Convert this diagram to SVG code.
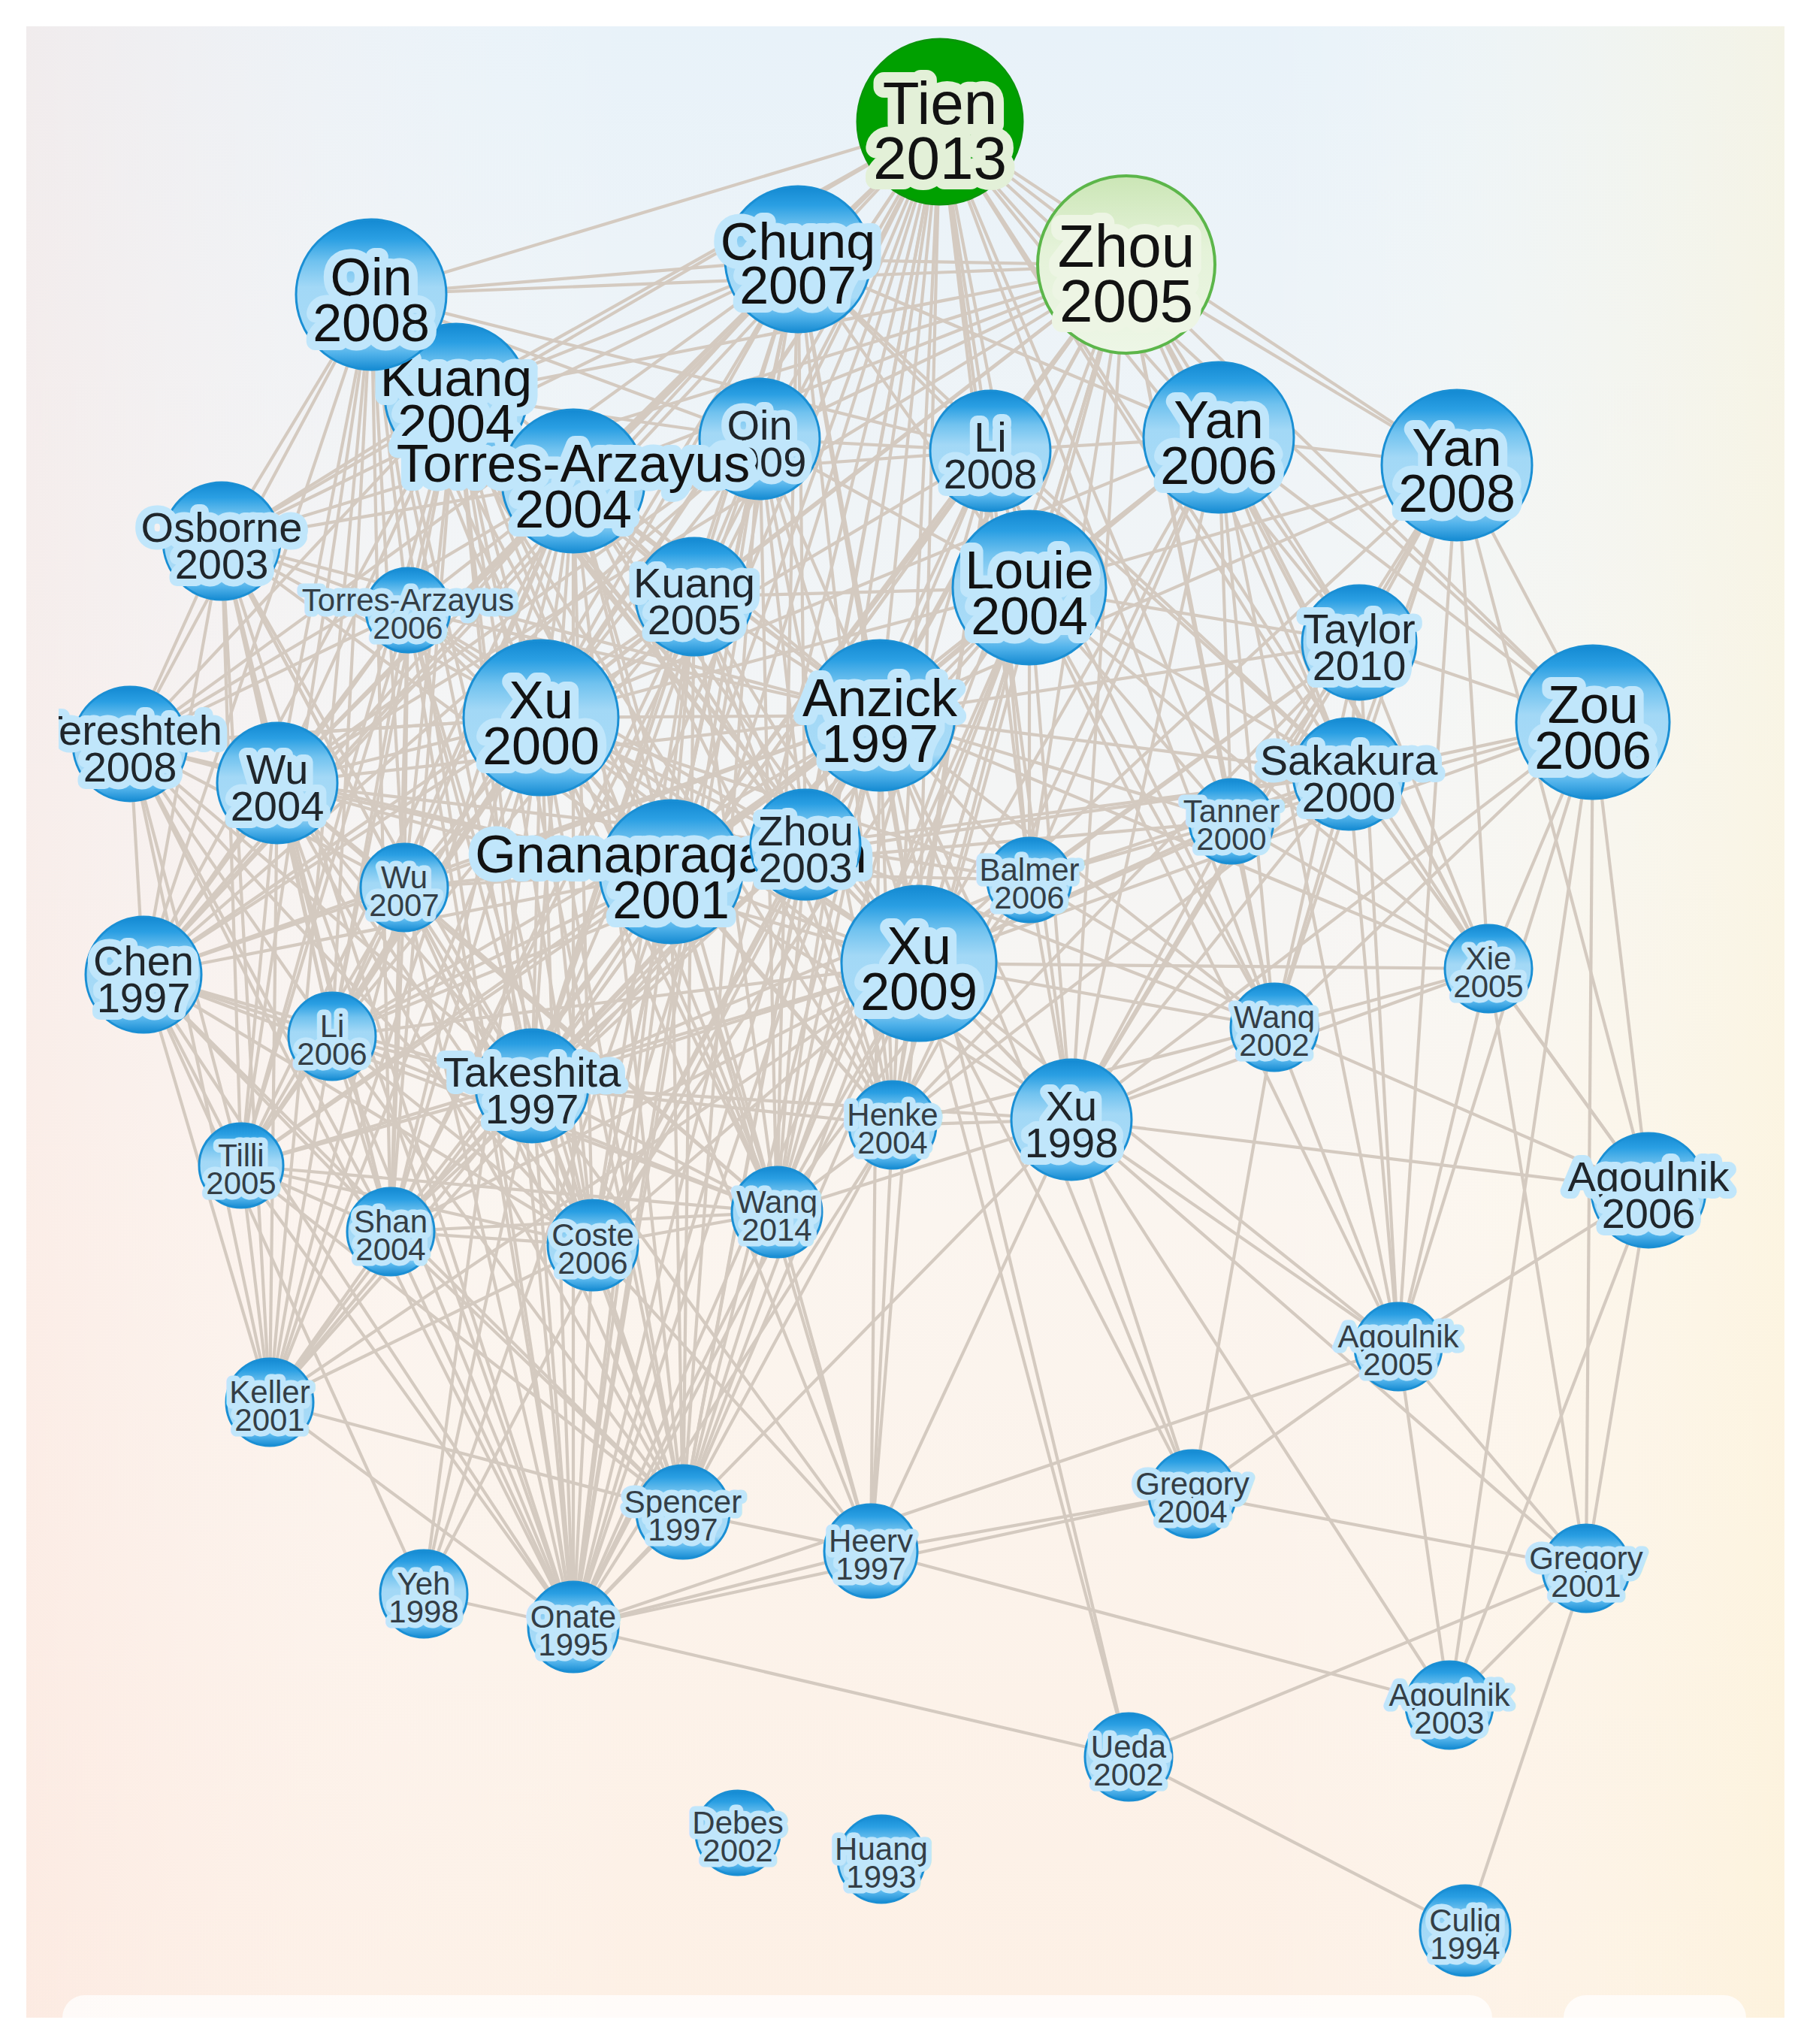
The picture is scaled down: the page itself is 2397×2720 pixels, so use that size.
<svg xmlns="http://www.w3.org/2000/svg" width="2397" height="2720" viewBox="0 0 2397 2720">
<defs>
<linearGradient id="bgV" x1="0" y1="0" x2="0" y2="1">
<stop offset="0" stop-color="#e8f2f9"/>
<stop offset="0.35" stop-color="#f3f5f6"/>
<stop offset="0.6" stop-color="#fbf5ef"/>
<stop offset="1" stop-color="#fdf0e5"/>
</linearGradient>
<linearGradient id="bgH" x1="0" y1="0" x2="1" y2="0">
<stop offset="0" stop-color="#fbe4de" stop-opacity="0.45"/>
<stop offset="0.35" stop-color="#ffffff" stop-opacity="0"/>
<stop offset="0.7" stop-color="#ffffff" stop-opacity="0"/>
<stop offset="1" stop-color="#fdf4d6" stop-opacity="0.55"/>
</linearGradient>
<linearGradient id="gBlue" x1="0" y1="0" x2="0" y2="1">
<stop offset="0" stop-color="#1389d2"/>
<stop offset="0.13" stop-color="#2a9fe3"/>
<stop offset="0.28" stop-color="#70c2ef"/>
<stop offset="0.45" stop-color="#a2d8f6"/>
<stop offset="0.76" stop-color="#a8dbf7"/>
<stop offset="0.89" stop-color="#52b3eb"/>
<stop offset="1" stop-color="#168bd2"/>
</linearGradient>
<linearGradient id="gLight" x1="0" y1="0" x2="0" y2="1">
<stop offset="0" stop-color="#cbe6b6"/>
<stop offset="0.4" stop-color="#e4f2d8"/>
<stop offset="1" stop-color="#edf6e6"/>
</linearGradient>
<clipPath id="clipTe"><rect x="78" y="900" width="400" height="200"/></clipPath>
<style>
.e line{stroke:#d4cac0;stroke-width:4.2}
.nc{fill:url(#gBlue);stroke:#1a8fd4;stroke-width:3}
text{font-family:"Liberation Sans",Arial,Helvetica,sans-serif;text-anchor:middle;paint-order:stroke;stroke:#c0e6fb;stroke-linejoin:round}
.tX{font-size:80px;stroke-width:28px;fill:#121212}
.tL{font-size:70px;stroke-width:24px;fill:#121212}
.tM{font-size:56px;stroke-width:20px;fill:#20262b}
.tS{font-size:42px;stroke-width:15px;fill:#343e46}
.tg{stroke:#e3f0d8}
.tz{stroke:#edf5e4}
</style>
</defs>
<rect x="0" y="0" width="2397" height="2720" fill="#ffffff"/>
<rect x="35" y="35" width="2340" height="2650" fill="url(#bgV)"/>
<rect x="35" y="35" width="2340" height="2650" fill="url(#bgH)"/>
<rect x="83" y="2655" width="1903" height="60" rx="30" fill="#ffffff" opacity="0.75"/>
<rect x="2081" y="2655" width="243" height="60" rx="30" fill="#ffffff" opacity="0.75"/>
<rect x="0" y="2685" width="2397" height="35" fill="#ffffff"/>

<g id="connectors" class="e">
<line x1="1251" y1="164" x2="1497" y2="353"/><line x1="1251" y1="164" x2="1062" y2="345"/><line x1="1251" y1="164" x2="494" y2="392"/><line x1="1251" y1="164" x2="607" y2="526"/><line x1="1251" y1="164" x2="763" y2="640"/><line x1="1251" y1="164" x2="1011" y2="584"/><line x1="1251" y1="164" x2="1318" y2="600"/><line x1="1251" y1="164" x2="1622" y2="582"/><line x1="1251" y1="164" x2="1939" y2="619"/><line x1="1251" y1="164" x2="295" y2="720"/><line x1="1251" y1="164" x2="924" y2="794"/><line x1="1251" y1="164" x2="1370" y2="782"/><line x1="1251" y1="164" x2="1809" y2="855"/><line x1="1251" y1="164" x2="720" y2="955"/><line x1="1251" y1="164" x2="1171" y2="952"/><line x1="1251" y1="164" x2="2120" y2="961"/><line x1="1251" y1="164" x2="369" y2="1042"/><line x1="1251" y1="164" x2="1795" y2="1030"/><line x1="1251" y1="164" x2="893" y2="1160"/><line x1="1251" y1="164" x2="1072" y2="1124"/><line x1="1251" y1="164" x2="1223" y2="1282"/><line x1="1251" y1="164" x2="1981" y2="1289"/><line x1="1251" y1="164" x2="1696" y2="1367"/><line x1="1251" y1="164" x2="708" y2="1445"/><line x1="1251" y1="164" x2="1426" y2="1490"/><line x1="1251" y1="164" x2="789" y2="1657"/><line x1="1251" y1="164" x2="1188" y2="1497"/><line x1="1251" y1="164" x2="1639" y2="1093"/><line x1="1251" y1="164" x2="1370" y2="1171"/><line x1="1251" y1="164" x2="191" y2="1297"/>
<line x1="1497" y1="353" x2="1062" y2="345"/><line x1="1497" y1="353" x2="494" y2="392"/><line x1="1497" y1="353" x2="607" y2="526"/><line x1="1497" y1="353" x2="763" y2="640"/><line x1="1497" y1="353" x2="1011" y2="584"/><line x1="1497" y1="353" x2="1318" y2="600"/><line x1="1497" y1="353" x2="1622" y2="582"/><line x1="1497" y1="353" x2="1939" y2="619"/><line x1="1497" y1="353" x2="1370" y2="782"/><line x1="1497" y1="353" x2="1809" y2="855"/><line x1="1497" y1="353" x2="720" y2="955"/><line x1="1497" y1="353" x2="1171" y2="952"/><line x1="1497" y1="353" x2="2120" y2="961"/><line x1="1497" y1="353" x2="1795" y2="1030"/><line x1="1497" y1="353" x2="1639" y2="1093"/><line x1="1497" y1="353" x2="893" y2="1160"/><line x1="1497" y1="353" x2="1072" y2="1124"/><line x1="1497" y1="353" x2="1223" y2="1282"/><line x1="1497" y1="353" x2="1696" y2="1367"/><line x1="1497" y1="353" x2="1981" y2="1289"/><line x1="1497" y1="353" x2="295" y2="720"/><line x1="1497" y1="353" x2="369" y2="1042"/><line x1="1497" y1="353" x2="708" y2="1445"/><line x1="1497" y1="353" x2="1426" y2="1490"/><line x1="1497" y1="353" x2="1370" y2="1171"/><line x1="1497" y1="353" x2="924" y2="794"/>
<line x1="1062" y1="345" x2="494" y2="392"/><line x1="1062" y1="345" x2="607" y2="526"/><line x1="1062" y1="345" x2="763" y2="640"/><line x1="1062" y1="345" x2="1011" y2="584"/><line x1="1062" y1="345" x2="1318" y2="600"/><line x1="1062" y1="345" x2="1622" y2="582"/><line x1="1062" y1="345" x2="1370" y2="782"/><line x1="1062" y1="345" x2="720" y2="955"/><line x1="1062" y1="345" x2="1171" y2="952"/><line x1="1062" y1="345" x2="893" y2="1160"/><line x1="1062" y1="345" x2="1072" y2="1124"/><line x1="1062" y1="345" x2="1223" y2="1282"/><line x1="1062" y1="345" x2="295" y2="720"/><line x1="1062" y1="345" x2="369" y2="1042"/><line x1="1062" y1="345" x2="173" y2="990"/><line x1="1062" y1="345" x2="924" y2="794"/><line x1="1062" y1="345" x2="708" y2="1445"/><line x1="1062" y1="345" x2="191" y2="1297"/><line x1="1062" y1="345" x2="442" y2="1379"/><line x1="1062" y1="345" x2="1795" y2="1030"/>
<line x1="494" y1="392" x2="607" y2="526"/><line x1="494" y1="392" x2="763" y2="640"/><line x1="494" y1="392" x2="1011" y2="584"/><line x1="494" y1="392" x2="1318" y2="600"/><line x1="494" y1="392" x2="295" y2="720"/><line x1="494" y1="392" x2="543" y2="812"/><line x1="494" y1="392" x2="924" y2="794"/><line x1="494" y1="392" x2="720" y2="955"/><line x1="494" y1="392" x2="1171" y2="952"/><line x1="494" y1="392" x2="173" y2="990"/><line x1="494" y1="392" x2="369" y2="1042"/><line x1="494" y1="392" x2="893" y2="1160"/><line x1="494" y1="392" x2="1072" y2="1124"/><line x1="494" y1="392" x2="538" y2="1181"/><line x1="494" y1="392" x2="191" y2="1297"/><line x1="494" y1="392" x2="442" y2="1379"/><line x1="494" y1="392" x2="708" y2="1445"/><line x1="494" y1="392" x2="321" y2="1551"/><line x1="494" y1="392" x2="520" y2="1639"/><line x1="494" y1="392" x2="1223" y2="1282"/><line x1="494" y1="392" x2="789" y2="1657"/><line x1="494" y1="392" x2="359" y2="1866"/>
<line x1="607" y1="526" x2="763" y2="640"/><line x1="607" y1="526" x2="1011" y2="584"/><line x1="607" y1="526" x2="295" y2="720"/><line x1="607" y1="526" x2="543" y2="812"/><line x1="607" y1="526" x2="924" y2="794"/><line x1="607" y1="526" x2="720" y2="955"/><line x1="607" y1="526" x2="1171" y2="952"/><line x1="607" y1="526" x2="173" y2="990"/><line x1="607" y1="526" x2="369" y2="1042"/><line x1="607" y1="526" x2="893" y2="1160"/><line x1="607" y1="526" x2="191" y2="1297"/><line x1="607" y1="526" x2="538" y2="1181"/><line x1="607" y1="526" x2="442" y2="1379"/><line x1="607" y1="526" x2="708" y2="1445"/><line x1="607" y1="526" x2="321" y2="1551"/><line x1="607" y1="526" x2="520" y2="1639"/><line x1="607" y1="526" x2="763" y2="2165"/><line x1="607" y1="526" x2="789" y2="1657"/>
<line x1="763" y1="640" x2="1011" y2="584"/><line x1="763" y1="640" x2="1318" y2="600"/><line x1="763" y1="640" x2="295" y2="720"/><line x1="763" y1="640" x2="543" y2="812"/><line x1="763" y1="640" x2="924" y2="794"/><line x1="763" y1="640" x2="720" y2="955"/><line x1="763" y1="640" x2="1171" y2="952"/><line x1="763" y1="640" x2="893" y2="1160"/><line x1="763" y1="640" x2="1072" y2="1124"/><line x1="763" y1="640" x2="369" y2="1042"/><line x1="763" y1="640" x2="173" y2="990"/><line x1="763" y1="640" x2="538" y2="1181"/><line x1="763" y1="640" x2="191" y2="1297"/><line x1="763" y1="640" x2="442" y2="1379"/><line x1="763" y1="640" x2="708" y2="1445"/><line x1="763" y1="640" x2="1223" y2="1282"/><line x1="763" y1="640" x2="763" y2="2165"/><line x1="763" y1="640" x2="520" y2="1639"/><line x1="763" y1="640" x2="789" y2="1657"/><line x1="763" y1="640" x2="1034" y2="1613"/>
<line x1="1011" y1="584" x2="1318" y2="600"/><line x1="1011" y1="584" x2="924" y2="794"/><line x1="1011" y1="584" x2="720" y2="955"/><line x1="1011" y1="584" x2="1171" y2="952"/><line x1="1011" y1="584" x2="1370" y2="782"/><line x1="1011" y1="584" x2="893" y2="1160"/><line x1="1011" y1="584" x2="1072" y2="1124"/><line x1="1011" y1="584" x2="1223" y2="1282"/><line x1="1011" y1="584" x2="708" y2="1445"/><line x1="1011" y1="584" x2="369" y2="1042"/><line x1="1011" y1="584" x2="191" y2="1297"/><line x1="1011" y1="584" x2="1188" y2="1497"/>
<line x1="1318" y1="600" x2="1622" y2="582"/><line x1="1318" y1="600" x2="1370" y2="782"/><line x1="1318" y1="600" x2="1171" y2="952"/><line x1="1318" y1="600" x2="1223" y2="1282"/><line x1="1318" y1="600" x2="893" y2="1160"/><line x1="1318" y1="600" x2="1072" y2="1124"/><line x1="1318" y1="600" x2="720" y2="955"/><line x1="1318" y1="600" x2="1795" y2="1030"/><line x1="1318" y1="600" x2="1370" y2="1171"/><line x1="1318" y1="600" x2="708" y2="1445"/><line x1="1318" y1="600" x2="1696" y2="1367"/>
<line x1="1622" y1="582" x2="1939" y2="619"/><line x1="1622" y1="582" x2="1370" y2="782"/><line x1="1622" y1="582" x2="1809" y2="855"/><line x1="1622" y1="582" x2="2120" y2="961"/><line x1="1622" y1="582" x2="1795" y2="1030"/><line x1="1622" y1="582" x2="1639" y2="1093"/><line x1="1622" y1="582" x2="1171" y2="952"/><line x1="1622" y1="582" x2="1223" y2="1282"/><line x1="1622" y1="582" x2="1696" y2="1367"/><line x1="1622" y1="582" x2="1981" y2="1289"/><line x1="1622" y1="582" x2="1426" y2="1490"/><line x1="1622" y1="582" x2="893" y2="1160"/><line x1="1622" y1="582" x2="720" y2="955"/><line x1="1622" y1="582" x2="1861" y2="1792"/>
<line x1="1939" y1="619" x2="1809" y2="855"/><line x1="1939" y1="619" x2="2120" y2="961"/><line x1="1939" y1="619" x2="1795" y2="1030"/><line x1="1939" y1="619" x2="1370" y2="782"/><line x1="1939" y1="619" x2="1171" y2="952"/><line x1="1939" y1="619" x2="1981" y2="1289"/><line x1="1939" y1="619" x2="1696" y2="1367"/><line x1="1939" y1="619" x2="1223" y2="1282"/><line x1="1939" y1="619" x2="2194" y2="1584"/><line x1="1939" y1="619" x2="1639" y2="1093"/><line x1="1939" y1="619" x2="1861" y2="1792"/><line x1="1939" y1="619" x2="1426" y2="1490"/>
<line x1="295" y1="720" x2="543" y2="812"/><line x1="295" y1="720" x2="720" y2="955"/><line x1="295" y1="720" x2="173" y2="990"/><line x1="295" y1="720" x2="369" y2="1042"/><line x1="295" y1="720" x2="191" y2="1297"/><line x1="295" y1="720" x2="321" y2="1551"/><line x1="295" y1="720" x2="1171" y2="952"/><line x1="295" y1="720" x2="893" y2="1160"/><line x1="295" y1="720" x2="708" y2="1445"/><line x1="295" y1="720" x2="520" y2="1639"/><line x1="295" y1="720" x2="359" y2="1866"/><line x1="295" y1="720" x2="442" y2="1379"/><line x1="295" y1="720" x2="538" y2="1181"/>
<line x1="543" y1="812" x2="720" y2="955"/><line x1="543" y1="812" x2="369" y2="1042"/><line x1="543" y1="812" x2="173" y2="990"/><line x1="543" y1="812" x2="191" y2="1297"/><line x1="543" y1="812" x2="1171" y2="952"/><line x1="543" y1="812" x2="893" y2="1160"/><line x1="543" y1="812" x2="538" y2="1181"/><line x1="543" y1="812" x2="442" y2="1379"/><line x1="543" y1="812" x2="321" y2="1551"/>
<line x1="924" y1="794" x2="720" y2="955"/><line x1="924" y1="794" x2="1171" y2="952"/><line x1="924" y1="794" x2="893" y2="1160"/><line x1="924" y1="794" x2="1072" y2="1124"/><line x1="924" y1="794" x2="1223" y2="1282"/><line x1="924" y1="794" x2="1370" y2="782"/><line x1="924" y1="794" x2="708" y2="1445"/><line x1="924" y1="794" x2="538" y2="1181"/><line x1="924" y1="794" x2="789" y2="1657"/><line x1="924" y1="794" x2="1034" y2="1613"/><line x1="924" y1="794" x2="1188" y2="1497"/>
<line x1="1370" y1="782" x2="1171" y2="952"/><line x1="1370" y1="782" x2="1809" y2="855"/><line x1="1370" y1="782" x2="1795" y2="1030"/><line x1="1370" y1="782" x2="1639" y2="1093"/><line x1="1370" y1="782" x2="893" y2="1160"/><line x1="1370" y1="782" x2="1072" y2="1124"/><line x1="1370" y1="782" x2="1223" y2="1282"/><line x1="1370" y1="782" x2="1370" y2="1171"/><line x1="1370" y1="782" x2="1696" y2="1367"/><line x1="1370" y1="782" x2="1426" y2="1490"/><line x1="1370" y1="782" x2="720" y2="955"/><line x1="1370" y1="782" x2="1981" y2="1289"/><line x1="1370" y1="782" x2="1188" y2="1497"/><line x1="1370" y1="782" x2="708" y2="1445"/><line x1="1370" y1="782" x2="1034" y2="1613"/><line x1="1370" y1="782" x2="1861" y2="1792"/>
<line x1="1809" y1="855" x2="2120" y2="961"/><line x1="1809" y1="855" x2="1795" y2="1030"/><line x1="1809" y1="855" x2="1639" y2="1093"/><line x1="1809" y1="855" x2="1171" y2="952"/><line x1="1809" y1="855" x2="1223" y2="1282"/><line x1="1809" y1="855" x2="1696" y2="1367"/><line x1="1809" y1="855" x2="1981" y2="1289"/><line x1="1809" y1="855" x2="1426" y2="1490"/><line x1="1809" y1="855" x2="1861" y2="1792"/>
<line x1="720" y1="955" x2="1171" y2="952"/><line x1="720" y1="955" x2="893" y2="1160"/><line x1="720" y1="955" x2="1072" y2="1124"/><line x1="720" y1="955" x2="369" y2="1042"/><line x1="720" y1="955" x2="173" y2="990"/><line x1="720" y1="955" x2="191" y2="1297"/><line x1="720" y1="955" x2="538" y2="1181"/><line x1="720" y1="955" x2="442" y2="1379"/><line x1="720" y1="955" x2="708" y2="1445"/><line x1="720" y1="955" x2="1223" y2="1282"/><line x1="720" y1="955" x2="321" y2="1551"/><line x1="720" y1="955" x2="520" y2="1639"/><line x1="720" y1="955" x2="789" y2="1657"/><line x1="720" y1="955" x2="1034" y2="1613"/><line x1="720" y1="955" x2="1188" y2="1497"/><line x1="720" y1="955" x2="763" y2="2165"/><line x1="720" y1="955" x2="909" y2="2012"/><line x1="720" y1="955" x2="359" y2="1866"/><line x1="720" y1="955" x2="1426" y2="1490"/><line x1="720" y1="955" x2="564" y2="2121"/>
<line x1="1171" y1="952" x2="893" y2="1160"/><line x1="1171" y1="952" x2="1072" y2="1124"/><line x1="1171" y1="952" x2="1223" y2="1282"/><line x1="1171" y1="952" x2="1795" y2="1030"/><line x1="1171" y1="952" x2="1639" y2="1093"/><line x1="1171" y1="952" x2="1370" y2="1171"/><line x1="1171" y1="952" x2="1696" y2="1367"/><line x1="1171" y1="952" x2="1426" y2="1490"/><line x1="1171" y1="952" x2="708" y2="1445"/><line x1="1171" y1="952" x2="789" y2="1657"/><line x1="1171" y1="952" x2="1034" y2="1613"/><line x1="1171" y1="952" x2="1188" y2="1497"/><line x1="1171" y1="952" x2="763" y2="2165"/><line x1="1171" y1="952" x2="909" y2="2012"/><line x1="1171" y1="952" x2="1159" y2="2064"/><line x1="1171" y1="952" x2="538" y2="1181"/><line x1="1171" y1="952" x2="442" y2="1379"/><line x1="1171" y1="952" x2="191" y2="1297"/><line x1="1171" y1="952" x2="369" y2="1042"/><line x1="1171" y1="952" x2="520" y2="1639"/><line x1="1171" y1="952" x2="321" y2="1551"/><line x1="1171" y1="952" x2="359" y2="1866"/><line x1="1171" y1="952" x2="1981" y2="1289"/><line x1="1171" y1="952" x2="1587" y2="1988"/>
<line x1="2120" y1="961" x2="1795" y2="1030"/><line x1="2120" y1="961" x2="1981" y2="1289"/><line x1="2120" y1="961" x2="2194" y2="1584"/><line x1="2120" y1="961" x2="1639" y2="1093"/><line x1="2120" y1="961" x2="1861" y2="1792"/><line x1="2120" y1="961" x2="1696" y2="1367"/><line x1="2120" y1="961" x2="2111" y2="2087"/><line x1="2120" y1="961" x2="1223" y2="1282"/><line x1="2120" y1="961" x2="1426" y2="1490"/><line x1="2120" y1="961" x2="1929" y2="2269"/>
<line x1="173" y1="990" x2="369" y2="1042"/><line x1="173" y1="990" x2="191" y2="1297"/><line x1="173" y1="990" x2="321" y2="1551"/><line x1="173" y1="990" x2="442" y2="1379"/><line x1="173" y1="990" x2="538" y2="1181"/><line x1="173" y1="990" x2="893" y2="1160"/><line x1="173" y1="990" x2="708" y2="1445"/><line x1="173" y1="990" x2="359" y2="1866"/><line x1="173" y1="990" x2="520" y2="1639"/>
<line x1="369" y1="1042" x2="191" y2="1297"/><line x1="369" y1="1042" x2="538" y2="1181"/><line x1="369" y1="1042" x2="442" y2="1379"/><line x1="369" y1="1042" x2="893" y2="1160"/><line x1="369" y1="1042" x2="708" y2="1445"/><line x1="369" y1="1042" x2="321" y2="1551"/><line x1="369" y1="1042" x2="520" y2="1639"/><line x1="369" y1="1042" x2="789" y2="1657"/><line x1="369" y1="1042" x2="359" y2="1866"/><line x1="369" y1="1042" x2="763" y2="2165"/>
<line x1="1795" y1="1030" x2="1639" y2="1093"/><line x1="1795" y1="1030" x2="1696" y2="1367"/><line x1="1795" y1="1030" x2="1981" y2="1289"/><line x1="1795" y1="1030" x2="1223" y2="1282"/><line x1="1795" y1="1030" x2="1426" y2="1490"/><line x1="1795" y1="1030" x2="1370" y2="1171"/><line x1="1795" y1="1030" x2="893" y2="1160"/><line x1="1795" y1="1030" x2="1861" y2="1792"/><line x1="1795" y1="1030" x2="2194" y2="1584"/><line x1="1795" y1="1030" x2="1072" y2="1124"/>
<line x1="1639" y1="1093" x2="1223" y2="1282"/><line x1="1639" y1="1093" x2="1696" y2="1367"/><line x1="1639" y1="1093" x2="1370" y2="1171"/><line x1="1639" y1="1093" x2="1981" y2="1289"/><line x1="1639" y1="1093" x2="1426" y2="1490"/><line x1="1639" y1="1093" x2="893" y2="1160"/>
<line x1="893" y1="1160" x2="1072" y2="1124"/><line x1="893" y1="1160" x2="1223" y2="1282"/><line x1="893" y1="1160" x2="538" y2="1181"/><line x1="893" y1="1160" x2="442" y2="1379"/><line x1="893" y1="1160" x2="708" y2="1445"/><line x1="893" y1="1160" x2="789" y2="1657"/><line x1="893" y1="1160" x2="1034" y2="1613"/><line x1="893" y1="1160" x2="1188" y2="1497"/><line x1="893" y1="1160" x2="763" y2="2165"/><line x1="893" y1="1160" x2="909" y2="2012"/><line x1="893" y1="1160" x2="520" y2="1639"/><line x1="893" y1="1160" x2="191" y2="1297"/><line x1="893" y1="1160" x2="321" y2="1551"/><line x1="893" y1="1160" x2="359" y2="1866"/><line x1="893" y1="1160" x2="1426" y2="1490"/><line x1="893" y1="1160" x2="1370" y2="1171"/>
<line x1="1072" y1="1124" x2="1223" y2="1282"/><line x1="1072" y1="1124" x2="1370" y2="1171"/><line x1="1072" y1="1124" x2="708" y2="1445"/><line x1="1072" y1="1124" x2="1188" y2="1497"/><line x1="1072" y1="1124" x2="1034" y2="1613"/><line x1="1072" y1="1124" x2="789" y2="1657"/><line x1="1072" y1="1124" x2="1426" y2="1490"/><line x1="1072" y1="1124" x2="763" y2="2165"/><line x1="1072" y1="1124" x2="1696" y2="1367"/>
<line x1="1370" y1="1171" x2="1223" y2="1282"/><line x1="1370" y1="1171" x2="1696" y2="1367"/><line x1="1370" y1="1171" x2="1188" y2="1497"/><line x1="1370" y1="1171" x2="1426" y2="1490"/>
<line x1="538" y1="1181" x2="191" y2="1297"/><line x1="538" y1="1181" x2="442" y2="1379"/><line x1="538" y1="1181" x2="708" y2="1445"/><line x1="538" y1="1181" x2="321" y2="1551"/><line x1="538" y1="1181" x2="520" y2="1639"/><line x1="538" y1="1181" x2="789" y2="1657"/><line x1="538" y1="1181" x2="763" y2="2165"/>
<line x1="191" y1="1297" x2="442" y2="1379"/><line x1="191" y1="1297" x2="708" y2="1445"/><line x1="191" y1="1297" x2="321" y2="1551"/><line x1="191" y1="1297" x2="520" y2="1639"/><line x1="191" y1="1297" x2="359" y2="1866"/><line x1="191" y1="1297" x2="763" y2="2165"/><line x1="191" y1="1297" x2="789" y2="1657"/><line x1="191" y1="1297" x2="1034" y2="1613"/><line x1="191" y1="1297" x2="564" y2="2121"/>
<line x1="1223" y1="1282" x2="1696" y2="1367"/><line x1="1223" y1="1282" x2="1981" y2="1289"/><line x1="1223" y1="1282" x2="708" y2="1445"/><line x1="1223" y1="1282" x2="1188" y2="1497"/><line x1="1223" y1="1282" x2="1426" y2="1490"/><line x1="1223" y1="1282" x2="789" y2="1657"/><line x1="1223" y1="1282" x2="1034" y2="1613"/><line x1="1223" y1="1282" x2="763" y2="2165"/><line x1="1223" y1="1282" x2="909" y2="2012"/><line x1="1223" y1="1282" x2="1159" y2="2064"/><line x1="1223" y1="1282" x2="1502" y2="2338"/><line x1="1223" y1="1282" x2="1587" y2="1988"/><line x1="1223" y1="1282" x2="1861" y2="1792"/><line x1="1223" y1="1282" x2="442" y2="1379"/>
<line x1="1981" y1="1289" x2="1696" y2="1367"/><line x1="1981" y1="1289" x2="2194" y2="1584"/><line x1="1981" y1="1289" x2="1861" y2="1792"/><line x1="1981" y1="1289" x2="1426" y2="1490"/><line x1="1981" y1="1289" x2="2111" y2="2087"/>
<line x1="1696" y1="1367" x2="1426" y2="1490"/><line x1="1696" y1="1367" x2="1861" y2="1792"/><line x1="1696" y1="1367" x2="2194" y2="1584"/><line x1="1696" y1="1367" x2="1188" y2="1497"/><line x1="1696" y1="1367" x2="1587" y2="1988"/>
<line x1="442" y1="1379" x2="708" y2="1445"/><line x1="442" y1="1379" x2="321" y2="1551"/><line x1="442" y1="1379" x2="520" y2="1639"/><line x1="442" y1="1379" x2="789" y2="1657"/><line x1="442" y1="1379" x2="763" y2="2165"/><line x1="442" y1="1379" x2="359" y2="1866"/>
<line x1="708" y1="1445" x2="321" y2="1551"/><line x1="708" y1="1445" x2="520" y2="1639"/><line x1="708" y1="1445" x2="789" y2="1657"/><line x1="708" y1="1445" x2="1034" y2="1613"/><line x1="708" y1="1445" x2="1188" y2="1497"/><line x1="708" y1="1445" x2="763" y2="2165"/><line x1="708" y1="1445" x2="909" y2="2012"/><line x1="708" y1="1445" x2="359" y2="1866"/><line x1="708" y1="1445" x2="1426" y2="1490"/><line x1="708" y1="1445" x2="1159" y2="2064"/>
<line x1="1188" y1="1497" x2="1426" y2="1490"/><line x1="1188" y1="1497" x2="1034" y2="1613"/><line x1="1188" y1="1497" x2="763" y2="2165"/><line x1="1188" y1="1497" x2="1159" y2="2064"/><line x1="1188" y1="1497" x2="909" y2="2012"/>
<line x1="1426" y1="1490" x2="1034" y2="1613"/><line x1="1426" y1="1490" x2="1861" y2="1792"/><line x1="1426" y1="1490" x2="2194" y2="1584"/><line x1="1426" y1="1490" x2="1587" y2="1988"/><line x1="1426" y1="1490" x2="1159" y2="2064"/><line x1="1426" y1="1490" x2="763" y2="2165"/><line x1="1426" y1="1490" x2="1929" y2="2269"/><line x1="1426" y1="1490" x2="2111" y2="2087"/>
<line x1="321" y1="1551" x2="520" y2="1639"/><line x1="321" y1="1551" x2="359" y2="1866"/><line x1="321" y1="1551" x2="763" y2="2165"/><line x1="321" y1="1551" x2="789" y2="1657"/>
<line x1="2194" y1="1584" x2="1861" y2="1792"/><line x1="2194" y1="1584" x2="2111" y2="2087"/><line x1="2194" y1="1584" x2="1929" y2="2269"/>
<line x1="520" y1="1639" x2="789" y2="1657"/><line x1="520" y1="1639" x2="763" y2="2165"/><line x1="520" y1="1639" x2="359" y2="1866"/><line x1="520" y1="1639" x2="909" y2="2012"/>
<line x1="789" y1="1657" x2="763" y2="2165"/><line x1="789" y1="1657" x2="1034" y2="1613"/><line x1="789" y1="1657" x2="909" y2="2012"/><line x1="789" y1="1657" x2="359" y2="1866"/>
<line x1="1034" y1="1613" x2="763" y2="2165"/><line x1="1034" y1="1613" x2="909" y2="2012"/><line x1="1034" y1="1613" x2="1159" y2="2064"/>
<line x1="1861" y1="1792" x2="1587" y2="1988"/><line x1="1861" y1="1792" x2="2111" y2="2087"/><line x1="1861" y1="1792" x2="1929" y2="2269"/><line x1="1861" y1="1792" x2="763" y2="2165"/>
<line x1="359" y1="1866" x2="763" y2="2165"/><line x1="359" y1="1866" x2="909" y2="2012"/>
<line x1="1587" y1="1988" x2="2111" y2="2087"/><line x1="1587" y1="1988" x2="1159" y2="2064"/><line x1="1587" y1="1988" x2="763" y2="2165"/>
<line x1="909" y1="2012" x2="763" y2="2165"/><line x1="909" y1="2012" x2="1159" y2="2064"/>
<line x1="1159" y1="2064" x2="763" y2="2165"/><line x1="1159" y1="2064" x2="1929" y2="2269"/>
<line x1="2111" y1="2087" x2="1929" y2="2269"/><line x1="2111" y1="2087" x2="1502" y2="2338"/><line x1="2111" y1="2087" x2="1950" y2="2569"/>
<line x1="564" y1="2121" x2="763" y2="2165"/>
<line x1="763" y1="2165" x2="1502" y2="2338"/>
<line x1="1502" y1="2338" x2="1950" y2="2569"/>
<line x1="494" y1="392" x2="1034" y2="1613"/><line x1="494" y1="392" x2="1188" y2="1497"/><line x1="494" y1="392" x2="763" y2="2165"/><line x1="607" y1="526" x2="1072" y2="1124"/><line x1="607" y1="526" x2="1223" y2="1282"/><line x1="607" y1="526" x2="1034" y2="1613"/><line x1="607" y1="526" x2="909" y2="2012"/><line x1="763" y1="640" x2="1188" y2="1497"/><line x1="763" y1="640" x2="909" y2="2012"/><line x1="763" y1="640" x2="359" y2="1866"/><line x1="763" y1="640" x2="321" y2="1551"/><line x1="1011" y1="584" x2="789" y2="1657"/><line x1="1011" y1="584" x2="1034" y2="1613"/><line x1="1011" y1="584" x2="763" y2="2165"/><line x1="1011" y1="584" x2="909" y2="2012"/><line x1="924" y1="794" x2="763" y2="2165"/><line x1="924" y1="794" x2="909" y2="2012"/><line x1="924" y1="794" x2="442" y2="1379"/><line x1="924" y1="794" x2="191" y2="1297"/><line x1="924" y1="794" x2="520" y2="1639"/>
<line x1="543" y1="812" x2="708" y2="1445"/><line x1="543" y1="812" x2="520" y2="1639"/><line x1="543" y1="812" x2="789" y2="1657"/><line x1="543" y1="812" x2="763" y2="2165"/><line x1="543" y1="812" x2="1072" y2="1124"/><line x1="543" y1="812" x2="1223" y2="1282"/><line x1="295" y1="720" x2="789" y2="1657"/><line x1="295" y1="720" x2="763" y2="2165"/><line x1="369" y1="1042" x2="1034" y2="1613"/><line x1="369" y1="1042" x2="1223" y2="1282"/><line x1="369" y1="1042" x2="1072" y2="1124"/><line x1="369" y1="1042" x2="909" y2="2012"/><line x1="173" y1="990" x2="789" y2="1657"/><line x1="173" y1="990" x2="763" y2="2165"/><line x1="173" y1="990" x2="720" y2="955"/><line x1="1072" y1="1124" x2="909" y2="2012"/><line x1="1072" y1="1124" x2="442" y2="1379"/><line x1="1072" y1="1124" x2="520" y2="1639"/><line x1="1072" y1="1124" x2="538" y2="1181"/><line x1="893" y1="1160" x2="1159" y2="2064"/>
<line x1="893" y1="1160" x2="564" y2="2121"/><line x1="720" y1="955" x2="1159" y2="2064"/><line x1="720" y1="955" x2="1370" y2="1171"/><line x1="708" y1="1445" x2="564" y2="2121"/><line x1="442" y1="1379" x2="909" y2="2012"/><line x1="442" y1="1379" x2="1034" y2="1613"/><line x1="538" y1="1181" x2="1034" y2="1613"/><line x1="538" y1="1181" x2="909" y2="2012"/><line x1="538" y1="1181" x2="359" y2="1866"/><line x1="191" y1="1297" x2="909" y2="2012"/><line x1="520" y1="1639" x2="1034" y2="1613"/><line x1="789" y1="1657" x2="1159" y2="2064"/><line x1="321" y1="1551" x2="909" y2="2012"/><line x1="321" y1="1551" x2="1034" y2="1613"/><line x1="1171" y1="952" x2="564" y2="2121"/><line x1="1171" y1="952" x2="1502" y2="2338"/><line x1="1223" y1="1282" x2="359" y2="1866"/><line x1="1223" y1="1282" x2="520" y2="1639"/><line x1="1223" y1="1282" x2="321" y2="1551"/><line x1="1370" y1="782" x2="789" y2="1657"/>
<line x1="1370" y1="782" x2="763" y2="2165"/><line x1="1370" y1="782" x2="909" y2="2012"/><line x1="1318" y1="600" x2="1188" y2="1497"/><line x1="1318" y1="600" x2="1034" y2="1613"/><line x1="1062" y1="345" x2="1034" y2="1613"/><line x1="1062" y1="345" x2="1188" y2="1497"/><line x1="1062" y1="345" x2="789" y2="1657"/><line x1="1062" y1="345" x2="763" y2="2165"/><line x1="1497" y1="353" x2="1034" y2="1613"/><line x1="1497" y1="353" x2="1188" y2="1497"/><line x1="1251" y1="164" x2="1034" y2="1613"/><line x1="1251" y1="164" x2="763" y2="2165"/><line x1="1251" y1="164" x2="909" y2="2012"/><line x1="1251" y1="164" x2="442" y2="1379"/><line x1="1251" y1="164" x2="520" y2="1639"/><line x1="1622" y1="582" x2="1188" y2="1497"/><line x1="1622" y1="582" x2="1370" y2="1171"/><line x1="1795" y1="1030" x2="1188" y2="1497"/><line x1="1809" y1="855" x2="1370" y2="1171"/><line x1="1809" y1="855" x2="1188" y2="1497"/><line x1="1370" y1="1171" x2="1034" y2="1613"/><line x1="1370" y1="1171" x2="708" y2="1445"/>
</g>

<g id="nodes">
<g id="n-kuang-2004"><circle class="nc" cx="607" cy="526" r="95"/><text class="tL" x="607" y="527">Kuang</text><text class="tL" x="607" y="588">2004</text></g>
<g id="n-qin-2008"><circle class="nc" cx="494" cy="392" r="100"/><text class="tL" x="494" y="393">Qin</text><text class="tL" x="494" y="454">2008</text></g>
<g id="n-qin-2009"><circle class="nc" cx="1011" cy="584" r="80"/><text class="tM" x="1011" y="585">Qin</text><text class="tM" x="1011" y="634">2009</text></g>
<g id="n-torres-arzayus-2004"><circle class="nc" cx="763" cy="640" r="95"/><text class="tL" x="763" y="641">Torres-Arzayus</text><text class="tL" x="763" y="702">2004</text></g>
<g id="n-tien-2013"><circle cx="1251" cy="162" r="110" fill="#00a000" stroke="#0a960a" stroke-width="3"/><text class="tX tg" x="1251" y="165">Tien</text><text class="tX tg" x="1251" y="238">2013</text></g>
<g id="n-zhou-2005"><circle cx="1499" cy="352" r="118" fill="url(#gLight)" stroke="#5cb64a" stroke-width="4"/><text class="tX tz" x="1499" y="355">Zhou</text><text class="tX tz" x="1499" y="428">2005</text></g>
<g id="n-chung-2007"><circle class="nc" cx="1062" cy="345" r="97"/><text class="tL" x="1062" y="346">Chung</text><text class="tL" x="1062" y="404">2007</text></g>
<g id="n-li-2008"><circle class="nc" cx="1318" cy="600" r="80"/><text class="tM" x="1318" y="601">Li</text><text class="tM" x="1318" y="650">2008</text></g>
<g id="n-yan-2006"><circle class="nc" cx="1622" cy="582" r="100"/><text class="tL" x="1622" y="583">Yan</text><text class="tL" x="1622" y="644">2006</text></g>
<g id="n-yan-2008"><circle class="nc" cx="1939" cy="619" r="100"/><text class="tL" x="1939" y="620">Yan</text><text class="tL" x="1939" y="681">2008</text></g>
<g id="n-osborne-2003"><circle class="nc" cx="295" cy="720" r="78"/><text class="tM" x="295" y="721">Osborne</text><text class="tM" x="295" y="770">2003</text></g>
<g id="n-torres-arzayus-2006"><circle class="nc" cx="543" cy="812" r="56"/><text class="tS" x="543" y="813">Torres-Arzayus</text><text class="tS" x="543" y="850">2006</text></g>
<g id="n-kuang-2005"><circle class="nc" cx="924" cy="794" r="78"/><text class="tM" x="924" y="795">Kuang</text><text class="tM" x="924" y="844">2005</text></g>
<g id="n-louie-2004"><circle class="nc" cx="1370" cy="782" r="102"/><text class="tL" x="1370" y="783">Louie</text><text class="tL" x="1370" y="844">2004</text></g>
<g id="n-taylor-2010"><circle class="nc" cx="1809" cy="855" r="76"/><text class="tM" x="1809" y="856">Taylor</text><text class="tM" x="1809" y="905">2010</text></g>
<g id="n-xu-2000"><circle class="nc" cx="720" cy="955" r="103"/><text class="tL" x="720" y="956">Xu</text><text class="tL" x="720" y="1017">2000</text></g>
<g id="n-anzick-1997"><circle class="nc" cx="1171" cy="952" r="100"/><text class="tL" x="1171" y="953">Anzick</text><text class="tL" x="1171" y="1014">1997</text></g>
<g id="n-zou-2006"><circle class="nc" cx="2120" cy="961" r="102"/><text class="tL" x="2120" y="962">Zou</text><text class="tL" x="2120" y="1023">2006</text></g>
<g id="n-tereshteh-2008"><circle class="nc" cx="173" cy="990" r="76"/><text class="tM" x="173" y="991" clip-path="url(#clipTe)">Tereshteh</text><text class="tM" x="173" y="1040">2008</text></g>
<g id="n-wu-2004"><circle class="nc" cx="369" cy="1042" r="80"/><text class="tM" x="369" y="1043">Wu</text><text class="tM" x="369" y="1092">2004</text></g>
<g id="n-sakakura-2000"><circle class="nc" cx="1795" cy="1030" r="74"/><text class="tM" x="1795" y="1031">Sakakura</text><text class="tM" x="1795" y="1080">2000</text></g>
<g id="n-tanner-2000"><circle class="nc" cx="1639" cy="1093" r="56"/><text class="tS" x="1639" y="1094">Tanner</text><text class="tS" x="1639" y="1131">2000</text></g>
<g id="n-gnanapragasam-2001"><circle class="nc" cx="893" cy="1160" r="95"/><text class="tL" x="893" y="1161">Gnanapragasam</text><text class="tL" x="893" y="1222">2001</text></g>
<g id="n-zhou-2003"><circle class="nc" cx="1072" cy="1124" r="73"/><text class="tM" x="1072" y="1125">Zhou</text><text class="tM" x="1072" y="1174">2003</text></g>
<g id="n-balmer-2006"><circle class="nc" cx="1370" cy="1171" r="56"/><text class="tS" x="1370" y="1172">Balmer</text><text class="tS" x="1370" y="1209">2006</text></g>
<g id="n-wu-2007"><circle class="nc" cx="538" cy="1181" r="58"/><text class="tS" x="538" y="1182">Wu</text><text class="tS" x="538" y="1219">2007</text></g>
<g id="n-chen-1997"><circle class="nc" cx="191" cy="1297" r="77"/><text class="tM" x="191" y="1298">Chen</text><text class="tM" x="191" y="1347">1997</text></g>
<g id="n-xu-2009"><circle class="nc" cx="1223" cy="1282" r="103"/><text class="tL" x="1223" y="1283">Xu</text><text class="tL" x="1223" y="1344">2009</text></g>
<g id="n-xie-2005"><circle class="nc" cx="1981" cy="1289" r="58"/><text class="tS" x="1981" y="1290">Xie</text><text class="tS" x="1981" y="1327">2005</text></g>
<g id="n-wang-2002"><circle class="nc" cx="1696" cy="1367" r="58"/><text class="tS" x="1696" y="1368">Wang</text><text class="tS" x="1696" y="1405">2002</text></g>
<g id="n-li-2006"><circle class="nc" cx="442" cy="1379" r="58"/><text class="tS" x="442" y="1380">Li</text><text class="tS" x="442" y="1417">2006</text></g>
<g id="n-takeshita-1997"><circle class="nc" cx="708" cy="1445" r="75"/><text class="tM" x="708" y="1446">Takeshita</text><text class="tM" x="708" y="1495">1997</text></g>
<g id="n-henke-2004"><circle class="nc" cx="1188" cy="1497" r="58"/><text class="tS" x="1188" y="1498">Henke</text><text class="tS" x="1188" y="1535">2004</text></g>
<g id="n-xu-1998"><circle class="nc" cx="1426" cy="1490" r="80"/><text class="tM" x="1426" y="1491">Xu</text><text class="tM" x="1426" y="1540">1998</text></g>
<g id="n-tilli-2005"><circle class="nc" cx="321" cy="1551" r="56"/><text class="tS" x="321" y="1552">Tilli</text><text class="tS" x="321" y="1589">2005</text></g>
<g id="n-agoulnik-2006"><circle class="nc" cx="2194" cy="1584" r="76"/><text class="tM" x="2194" y="1585">Agoulnik</text><text class="tM" x="2194" y="1634">2006</text></g>
<g id="n-shan-2004"><circle class="nc" cx="520" cy="1639" r="58"/><text class="tS" x="520" y="1640">Shan</text><text class="tS" x="520" y="1677">2004</text></g>
<g id="n-coste-2006"><circle class="nc" cx="789" cy="1657" r="60"/><text class="tS" x="789" y="1658">Coste</text><text class="tS" x="789" y="1695">2006</text></g>
<g id="n-wang-2014"><circle class="nc" cx="1034" cy="1613" r="60"/><text class="tS" x="1034" y="1614">Wang</text><text class="tS" x="1034" y="1651">2014</text></g>
<g id="n-agoulnik-2005"><circle class="nc" cx="1861" cy="1792" r="58"/><text class="tS" x="1861" y="1793">Agoulnik</text><text class="tS" x="1861" y="1830">2005</text></g>
<g id="n-keller-2001"><circle class="nc" cx="359" cy="1866" r="58"/><text class="tS" x="359" y="1867">Keller</text><text class="tS" x="359" y="1904">2001</text></g>
<g id="n-gregory-2004"><circle class="nc" cx="1587" cy="1988" r="58"/><text class="tS" x="1587" y="1989">Gregory</text><text class="tS" x="1587" y="2026">2004</text></g>
<g id="n-spencer-1997"><circle class="nc" cx="909" cy="2012" r="62"/><text class="tS" x="909" y="2013">Spencer</text><text class="tS" x="909" y="2050">1997</text></g>
<g id="n-heery-1997"><circle class="nc" cx="1159" cy="2064" r="62"/><text class="tS" x="1159" y="2065">Heery</text><text class="tS" x="1159" y="2102">1997</text></g>
<g id="n-gregory-2001"><circle class="nc" cx="2111" cy="2087" r="58"/><text class="tS" x="2111" y="2088">Gregory</text><text class="tS" x="2111" y="2125">2001</text></g>
<g id="n-yeh-1998"><circle class="nc" cx="564" cy="2121" r="58"/><text class="tS" x="564" y="2122">Yeh</text><text class="tS" x="564" y="2159">1998</text></g>
<g id="n-onate-1995"><circle class="nc" cx="763" cy="2165" r="60"/><text class="tS" x="763" y="2166">Onate</text><text class="tS" x="763" y="2203">1995</text></g>
<g id="n-agoulnik-2003"><circle class="nc" cx="1929" cy="2269" r="58"/><text class="tS" x="1929" y="2270">Agoulnik</text><text class="tS" x="1929" y="2307">2003</text></g>
<g id="n-ueda-2002"><circle class="nc" cx="1502" cy="2338" r="58"/><text class="tS" x="1502" y="2339">Ueda</text><text class="tS" x="1502" y="2376">2002</text></g>
<g id="n-debes-2002"><circle class="nc" cx="982" cy="2439" r="56"/><text class="tS" x="982" y="2440">Debes</text><text class="tS" x="982" y="2477">2002</text></g>
<g id="n-huang-1993"><circle class="nc" cx="1173" cy="2474" r="58"/><text class="tS" x="1173" y="2475">Huang</text><text class="tS" x="1173" y="2512">1993</text></g>
<g id="n-culig-1994"><circle class="nc" cx="1950" cy="2569" r="60"/><text class="tS" x="1950" y="2570">Culig</text><text class="tS" x="1950" y="2607">1994</text></g>
</g>
</svg>
